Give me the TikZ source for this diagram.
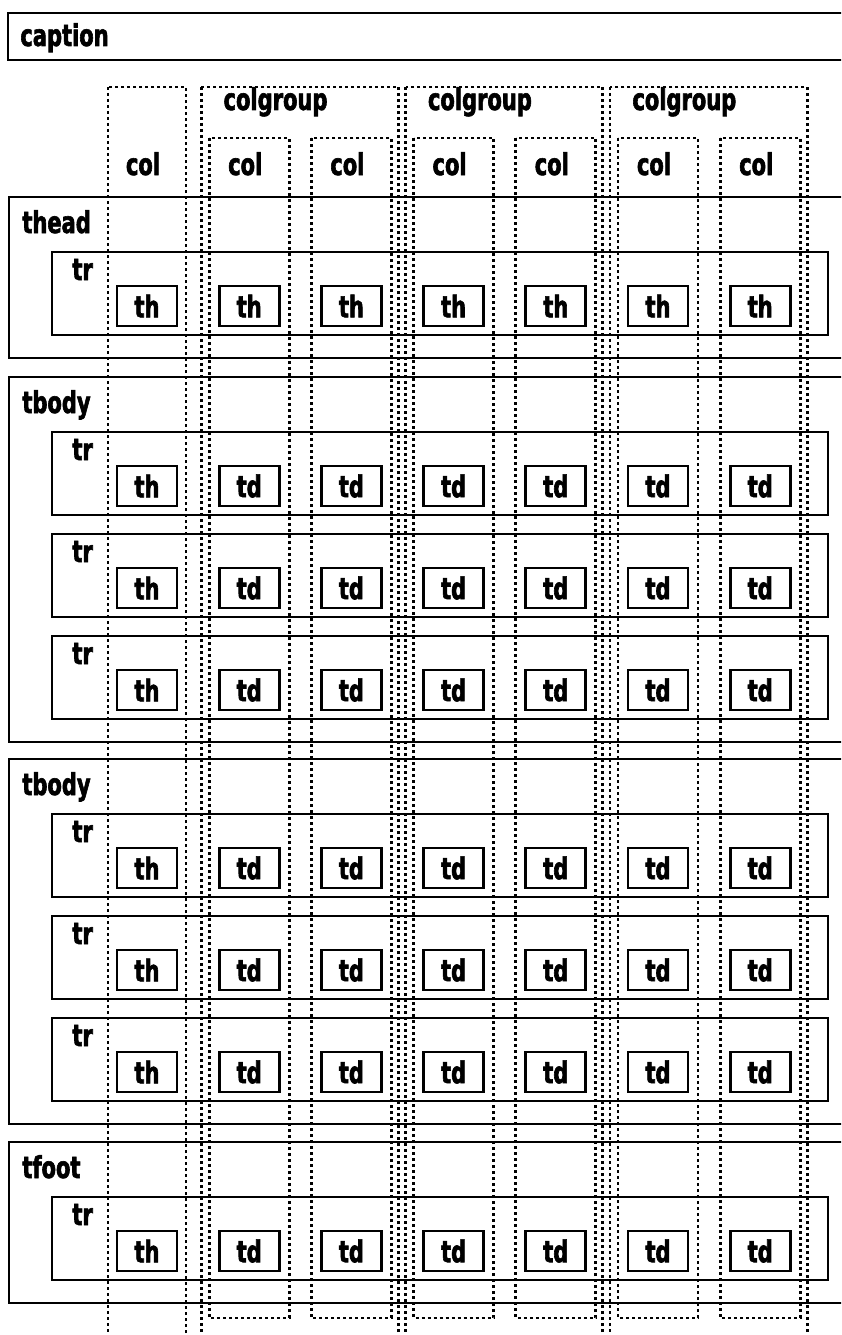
\documentclass[tikz,border=0pt]{standalone}
\usepackage{fontspec}
\newfontfamily\boxfont{DejaVu Sans}[FakeStretch=0.7, FakeBold=2]
\begin{document}
\begin{tikzpicture}[x=1pt, y=-1pt, line width=2.8pt, font=\boxfont\bfseries\fontsize{30}{32}\selectfont]
\tikzstyle{cell}=[draw, minimum width=60pt, minimum height=40pt, inner sep=0pt]
\tikzstyle{colbox}=[draw, dash pattern=on 3pt off 3pt, line width=2.8pt]
\tikzstyle{tag}=[anchor=base west, inner sep=0pt]
\def\pitch{102.2}
\clip (0,0) rectangle (841,1335);
% caption
\draw (8,13) rectangle (900,60);
\node[tag] (caption) at (19,46) {caption};
% col and colgroups
\draw[colbox] (108,87) rectangle (186,1400);
\node[anchor=base, inner sep=0pt] (col0) at (143,175) {col};
\foreach \g in {0,1,2} {
  \pgfmathsetmacro{\ca}{147+\pitch*(1+2*\g)}
  \pgfmathsetmacro{\cb}{\ca+\pitch}
  \draw[colbox] (\ca-48,87) rectangle (\cb+47,1400);
  \node[tag] (grp\g) at (\ca-27,110) {colgroup};
  \draw[colbox] (\ca-40,138) rectangle (\ca+40,1318);
  \draw[colbox] (\cb-40,138) rectangle (\cb+40,1318);
  \node[anchor=base, inner sep=0pt] (grp\g-a) at (\ca-4,175) {col};
  \node[anchor=base, inner sep=0pt] (grp\g-b) at (\cb-4,175) {col};
}
% thead, tbody, tfoot
\foreach \top/\name/\rows/\cellname in {197/thead/1/th, 377/tbody/3/td, 759/tbody/3/td, 1142/tfoot/1/td} {
  \pgfmathsetmacro{\bot}{\top+161+102*(\rows-1)}
  \draw (9,\top) rectangle (900,\bot);
  \node[tag] (\name-\top) at (21,\top+36) {\name};
  \foreach \r in {1,...,\rows} {
    \pgfmathsetmacro{\rtop}{\top+55+102*(\r-1)}
    \draw (52,\rtop) rectangle (828,\rtop+83);
    \node[tag] (tr-\top-\r) at (71,\rtop+28) {tr};
    \node[cell] (\name-\top-\r-0) at (147,\rtop+54) {th};
    \foreach \k in {1,...,6}
      \node[cell] (\name-\top-\r-\k) at (147+\pitch*\k,\rtop+54) {\cellname};
  }
}
\end{tikzpicture}
\end{document}
